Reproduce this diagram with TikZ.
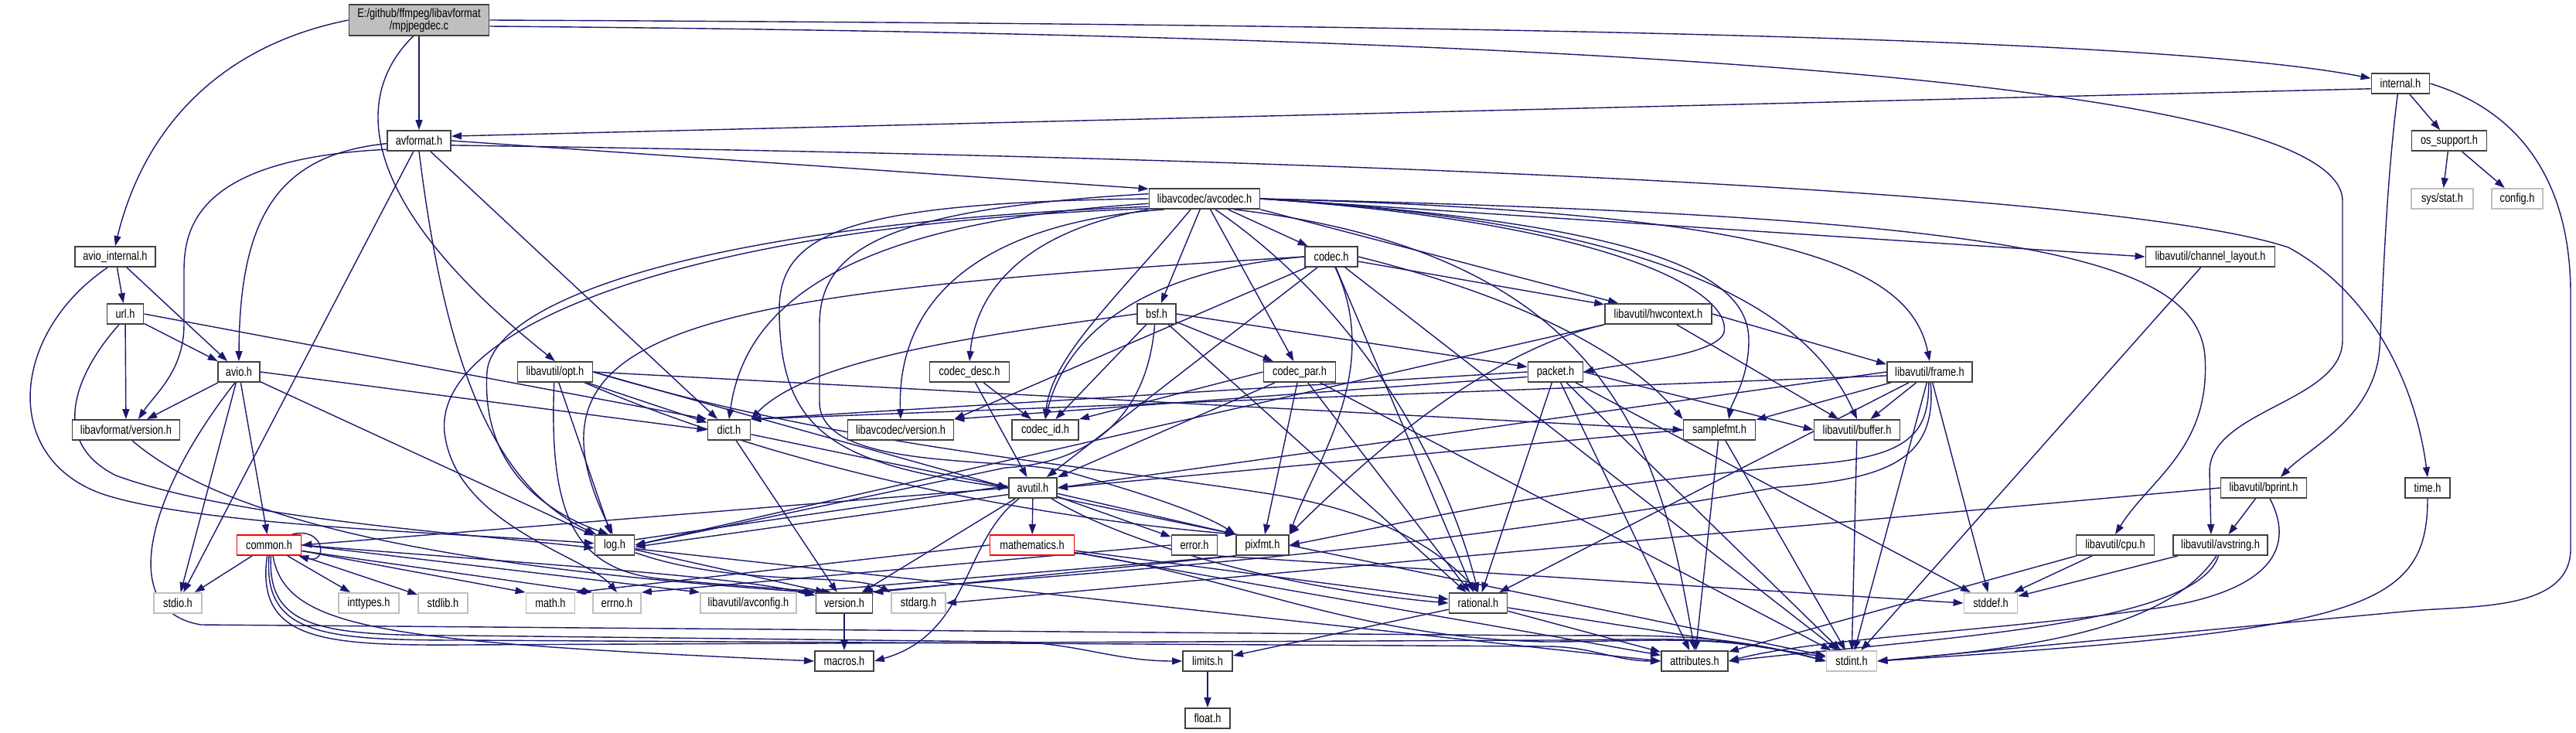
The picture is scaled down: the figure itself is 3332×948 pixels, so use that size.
\documentclass[tikz,border=0pt]{standalone}
\usepackage{fontspec}
\newfontfamily\nf{Liberation Sans}[FakeStretch=0.8]
\usetikzlibrary{arrows.meta,backgrounds}
\definecolor{edgec}{RGB}{25,25,112}
\definecolor{mainfill}{RGB}{191,191,191}
\definecolor{leafc}{RGB}{191,191,191}
\definecolor{boxc}{RGB}{64,64,64}
\begin{document}
\begin{tikzpicture}[x=0.5pt,y=-0.5pt,
  nb/.style={draw=boxc, fill=white, line width=0.9pt, minimum height=13pt, inner sep=0pt, font=\nf\fontsize{8}{9.6}\selectfont},
  gb/.style={nb, draw=leafc},
  rb/.style={nb, draw=red},
  ed/.style={draw=edgec, line width=0.7pt, -{Triangle[length=6.5pt,width=4.5pt]}}]
\useasboundingbox (0,0) rectangle (3332,948);
% nodes
\node[nb, fill=mainfill, minimum width=90.5pt, minimum height=20pt, align=center, font=\nf\fontsize{8}{7.9}\selectfont] (main) at (542,26) {E:/github/ffmpeg/libavformat\\/mpjpegdec.c};
\node[nb, minimum width=41pt] (avformat) at (542,182) {avformat.h};
\node[nb, minimum width=37.5pt] (internal) at (3105,108) {internal.h};
\node[nb, minimum width=48.5pt] (ossupport) at (3168,182) {os\_support.h};
\node[gb, minimum width=40pt] (sysstat) at (3159,257) {sys/stat.h};
\node[gb, minimum width=33pt] (config) at (3256,257) {config.h};
\node[nb, minimum width=52pt] (aviointernal) at (149,332) {avio\_internal.h};
\node[nb, minimum width=23.5pt] (url) at (162,406) {url.h};
\node[nb, minimum width=27pt] (avio) at (309,481) {avio.h};
\node[nb, minimum width=69.5pt] (lavfversion) at (163,556) {libavformat/version.h};
\node[nb, minimum width=48.5pt] (opt) at (718,481) {libavutil/opt.h};
\node[nb, minimum width=71.5pt] (avcodec) at (1558,257) {libavcodec/avcodec.h};
\node[nb, minimum width=34pt] (codec) at (1722,332) {codec.h};
\node[nb, minimum width=25pt] (bsf) at (1496,406) {bsf.h};
\node[nb, minimum width=51.5pt] (codecdesc) at (1254,481) {codec\_desc.h};
\node[nb, minimum width=46.5pt] (codecpar) at (1681,481) {codec\_par.h};
\node[nb, minimum width=35.5pt] (packet) at (2012,481) {packet.h};
\node[nb, minimum width=69pt] (hwcontext) at (2145,406) {libavutil/hwcontext.h};
\node[nb, minimum width=55pt] (frame) at (2496,481) {libavutil/frame.h};
\node[nb, minimum width=83.5pt] (chlayout) at (2859,332) {libavutil/channel\_layout.h};
\node[nb, minimum width=27.5pt] (dict) at (943,556) {dict.h};
\node[nb, minimum width=68.5pt] (lavcversion) at (1165,556) {libavcodec/version.h};
\node[nb, minimum width=43pt] (codecid) at (1352,556) {codec\_id.h};
\node[nb, minimum width=46.5pt] (samplefmt) at (2224,556) {samplefmt.h};
\node[nb, minimum width=55.5pt] (buffer) at (2402,556) {libavutil/buffer.h};
\node[nb, minimum width=31pt] (avutil) at (1336,631) {avutil.h};
\node[rb, minimum width=41.5pt] (common) at (348,705) {common.h};
\node[nb, minimum width=25.5pt] (log) at (795,705) {log.h};
\node[nb, minimum width=29.5pt] (error) at (1545,705) {error.h};
\node[nb, minimum width=34pt] (pixfmt) at (1633,705) {pixfmt.h};
\node[rb, minimum width=54.5pt] (mathematics) at (1335,705) {mathematics.h};
\node[nb, minimum width=55.5pt] (bprint) at (2928,631) {libavutil/bprint.h};
\node[nb, minimum width=50.5pt] (cpu) at (2736,705) {libavutil/cpu.h};
\node[nb, minimum width=61pt] (avstring) at (2872,705) {libavutil/avstring.h};
\node[nb, minimum width=29pt] (time) at (3140,631) {time.h};
\node[gb, minimum width=31pt] (stdio) at (230,780) {stdio.h};
\node[gb, minimum width=39pt] (inttypes) at (477,780) {inttypes.h};
\node[gb, minimum width=32pt] (stdlib) at (573,780) {stdlib.h};
\node[gb, minimum width=31.5pt] (math) at (712,780) {math.h};
\node[gb, minimum width=31pt] (errno) at (798,780) {errno.h};
\node[gb, minimum width=62pt] (avconfig) at (968,780) {libavutil/avconfig.h};
\node[nb, minimum width=36.5pt] (version) at (1092,780) {version.h};
\node[gb, minimum width=35pt] (stdarg) at (1188,780) {stdarg.h};
\node[nb, minimum width=37.5pt] (rational) at (1912,780) {rational.h};
\node[gb, minimum width=34.5pt] (stddef) at (2575,780) {stddef.h};
\node[nb, minimum width=38pt] (macros) at (1092,855) {macros.h};
\node[nb, minimum width=32pt] (limits) at (1562,855) {limits.h};
\node[nb, minimum width=43pt] (attributes) at (2192,855) {attributes.h};
\node[gb, minimum width=32.5pt] (stdint) at (2395,855) {stdint.h};
\node[nb, minimum width=29pt] (float) at (1562,929) {float.h};
\begin{scope}[on background layer]
\fill[white] (0,0) rectangle (3332,948);
% main
\draw[ed] (main.west) .. controls (280,60) and (185,170) .. (aviointernal.north);
\draw[ed] (main) -- (avformat);
\draw[ed] (main.250) .. controls (450,130) and (470,270) .. (opt.north);
\draw[ed] (main.east) .. controls (2000,32) and (2800,50) .. (internal.170);
\draw[ed] (main.-5) .. controls (2000,45) and (3030,100) .. (3030,260) -- (3030,440) .. controls (3030,520) and (2858,530) .. (2858,610) -- ([xshift=-6pt]avstring.north);
% internal
\draw[ed] (internal.190) -- (avformat.8);
\draw[ed] (internal) -- (ossupport);
\draw[ed] (internal.255) .. controls (3085,250) and (3082,390) .. (3078,450) .. controls (3072,540) and (2985,580) .. ([xshift=11pt]bprint.north);
\draw[ed] (internal.east) .. controls (3280,150) and (3325,260) .. (3325,380) -- (3325,710) .. controls (3325,790) and (3200,783) .. (3120,790) -- (stdint.east);
\draw[ed] (ossupport) -- (sysstat);
\draw[ed] (ossupport) -- (config);
% avformat
\draw[ed] (avformat.185) .. controls (360,200) and (310,280) .. (avio.north);
\draw[ed] (avformat.195) .. controls (260,205) and (238,290) .. (238,350) -- (238,420) .. controls (238,480) and (200,510) .. ([xshift=8pt]lavfversion.north);
\draw[ed] (avformat) -- (stdio);
\draw[ed] (avformat.south) .. controls (570,420) and (620,620) .. (log.150);
\draw[ed] (avformat) -- (dict);
\draw[ed] (avformat.east) -- (avcodec.170);
\draw[ed] (avformat.-8) .. controls (1800,205) and (2750,250) .. (2960,320) .. controls (3070,380) and (3125,500) .. (time.north);
% avio_internal, url, avio
\draw[ed] (aviointernal) -- (url);
\draw[ed] (aviointernal) -- (avio);
\draw[ed] (aviointernal.235) .. controls (15,430) and (0,590) .. (130,638) .. controls (250,680) and (600,690) .. (log.175);
\draw[ed] (url) -- (avio);
\draw[ed] (url) -- (lavfversion);
\draw[ed] (url.east) -- (dict.north west);
\draw[ed] (url.240) .. controls (100,480) and (60,570) .. (150,615) .. controls (300,670) and (600,690) .. (log.188);
\draw[ed] (avio) -- (lavfversion);
\draw[ed] (avio) -- (stdio);
\draw[ed] (avio) -- (common);
\draw[ed] (avio) -- (log);
\draw[ed] (avio.east) -- (dict.west);
\draw[ed] (avio.250) .. controls (190,640) and (150,790) .. (260,808) -- (2000,822) to[out=0,in=165] (stdint.west);
\draw[ed] (lavfversion.-60) .. controls (300,680) and (600,735) .. (version.160);
% opt
\draw[ed] (opt) -- (dict);
\draw[ed] (opt.east) -- (samplefmt.west);
\draw[ed] (opt) -- (log);
\draw[ed] (opt.east) -- (avutil.west);
\draw[ed] (opt.-20) .. controls (1000,600) and (1300,665) .. (pixfmt.north west);
\draw[ed] (opt.east) .. controls (1100,580) and (1400,600) .. (1650,640) .. controls (1800,665) and (1870,720) .. (rational.north);
\draw[ed] (opt.265) .. controls (710,660) and (740,735) .. (850,748) .. controls (950,758) and (1020,762) .. (version.140);
% avcodec
\draw[ed] (avcodec.190) .. controls (900,290) and (560,420) .. (575,560) .. controls (590,680) and (760,720) .. (errno.north);
\draw[ed] (avcodec.188) .. controls (900,290) and (640,390) .. (630,480) .. controls (622,600) and (700,660) .. (log.120);
\draw[ed] (avcodec.185) .. controls (1050,290) and (960,420) .. (dict.north);
\draw[ed] (avcodec.195) .. controls (1250,290) and (1160,400) .. (lavcversion.north);
\draw[ed] (avcodec.south west) .. controls (1320,300) and (1262,380) .. (codecdesc.north);
\draw[ed] ([xshift=-9pt]avcodec.south) .. controls (1450,380) and (1360,460) .. (codecid.north);
\draw[ed] (avcodec.west) .. controls (1100,262) and (1008,300) .. (1008,400) .. controls (1008,560) and (1080,600) .. (avutil.west);
\draw[ed] (avcodec.175) .. controls (1150,270) and (1060,320) .. (1060,420) -- (1060,520) .. controls (1060,610) and (1300,590) .. (1380,610) .. controls (1450,630) and (1550,660) .. (pixfmt.north west);
\draw[ed] (avcodec) -- (bsf);
\draw[ed] (avcodec) -- (codec);
\draw[ed] (avcodec) -- (codecpar);
\draw[ed] (avcodec.south east) -- ([xshift=9pt]hwcontext.north west);
\draw[ed] (avcodec.east) .. controls (2100,290) and (2240,380) .. (2230,430) .. controls (2220,460) and (2100,470) .. (packet.east);
\draw[ed] (avcodec.east) .. controls (2150,290) and (2262,360) .. (2262,440) .. controls (2262,490) and (2240,520) .. ([xshift=6pt]samplefmt.north);
\draw[ed] (avcodec.east) .. controls (2100,285) and (2330,380) .. (buffer.north);
\draw[ed] (avcodec.east) .. controls (2300,275) and (2470,340) .. (frame.north);
\draw[ed] (avcodec.east) -- (chlayout.west);
\draw[ed] (avcodec.east) .. controls (2600,280) and (2840,330) .. (2852,460) .. controls (2860,580) and (2780,620) .. (cpu.north);
\draw[ed] (avcodec.-20) .. controls (2100,330) and (2150,600) .. (attributes.north);
\draw[ed] (avcodec.-45) .. controls (1760,400) and (1870,600) .. (rational.north);
% codec
\draw[ed] (codec) -- (stdint);
\draw[ed] (codec) -- (avutil);
\draw[ed] (codec) -- (hwcontext);
\draw[ed] (codec.west) .. controls (900,380) and (660,420) .. (log.100);
\draw[ed] (codec.-70) .. controls (1790,480) and (1700,600) .. (pixfmt.north east);
\draw[ed] (codec) -- (rational);
\draw[ed] (codec.east) .. controls (1950,380) and (2100,450) .. (samplefmt.north west);
\draw[ed] (codec.west) .. controls (1480,350) and (1380,430) .. (codecid.north);
\draw[ed] (codec) -- (lavcversion.north east);
% bsf
\draw[ed] (bsf.west) .. controls (1300,430) and (1050,460) .. (dict.north east);
\draw[ed] (bsf.260) .. controls (1485,530) and (1420,598) .. (1300,605) -- (log.east);
\draw[ed] (bsf) -- (rational);
\draw[ed] (bsf) -- (codecid);
\draw[ed] (bsf) -- (codecpar);
\draw[ed] (bsf.east) -- (packet.170);
% codec_desc, codec_par
\draw[ed] (codecdesc) -- (avutil);
\draw[ed] (codecdesc) -- (codecid);
\draw[ed] (codecpar) -- (stdint);
\draw[ed] (codecpar) -- (avutil);
\draw[ed] (codecpar) -- (rational);
\draw[ed] (codecpar) -- (pixfmt);
\draw[ed] (codecpar.west) -- (codecid.north east);
% packet
\draw[ed] (packet) -- (stddef);
\draw[ed] (packet) -- (stdint);
\draw[ed] (packet) -- (attributes);
\draw[ed] (packet.east) -- (buffer.west);
\draw[ed] (packet.west) -- (dict.north east);
\draw[ed] (packet) -- (rational);
\draw[ed] (packet.190) -- (lavcversion.north east);
% hwcontext
\draw[ed] (hwcontext) -- (buffer);
\draw[ed] (hwcontext.east) -- (frame.170);
\draw[ed] (hwcontext.south west) -- (log.east);
\draw[ed] (hwcontext.south west) .. controls (1940,450) and (1800,560) .. (pixfmt.north east);
% frame
\draw[ed] (frame) -- (stddef);
\draw[ed] (frame) -- (stdint);
\draw[ed] (frame.west) -- (avutil.east);
\draw[ed] (frame) -- (buffer);
\draw[ed] (frame) -- (samplefmt);
\draw[ed] (frame.185) -- (dict.north east);
\draw[ed] (frame) -- (rational);
\draw[ed] (frame.265) .. controls (2495,560) and (2470,590) .. (2350,600) .. controls (2000,630) and (1800,680) .. (pixfmt.east);
\draw[ed] (frame.275) .. controls (2505,590) and (2450,620) .. (2300,630) .. controls (1800,720) and (1400,740) .. (version.30);
\draw[ed] (chlayout) -- (stdint);
% dict, samplefmt, buffer
\draw[ed] (dict) -- (stdint);
\draw[ed] (dict) -- (version);
\draw[ed] (samplefmt.west) -- (avutil.east);
\draw[ed] (samplefmt) -- (attributes);
\draw[ed] (samplefmt) -- (stdint);
\draw[ed] (buffer) -- (stdint);
% avutil
\draw[ed] (avutil.west) -- (common.east);
\draw[ed] (avutil) -- (error);
\draw[ed] (avutil.-30) .. controls (1450,700) and (1650,760) .. (rational.west);
\draw[ed] (avutil) -- (version);
\draw[ed] ([xshift=-9pt]avutil.south) .. controls (1245,700) and (1255,820) .. (macros.east);
\draw[ed] (avutil) -- (mathematics);
\draw[ed] (avutil.195) -- (log.355);
\draw[ed] (avutil) -- (pixfmt.north west);
% common
\draw[ed] (common) -- (stdio);
\draw[ed] (common) -- (inttypes);
\draw[ed] (common) -- (stdlib);
\draw[ed] (common.-10) -- (math.north west);
\draw[ed] (common.-10) -- (errno.north west);
\draw[ed] (common.east) -- (avconfig.north west);
\draw[ed] (common.east) .. controls (700,730) and (950,745) .. (version.165);
\draw[ed] (common.290) .. controls (370,815) and (500,830) .. (macros.west);
\draw[ed] (common.280) .. controls (345,815) and (420,822) .. (600,822) -- (1300,830) to[out=0,in=180] (limits.west);
\draw[ed] (common.270) .. controls (340,822) and (420,828) .. (600,828) -- (2000,836) to[out=0,in=180] (attributes.west);
\draw[ed] (common.260) .. controls (330,830) and (420,835) .. (600,834) -- (2000,828) to[out=0,in=165] (stdint.west);
\draw[ed] (common.25) .. controls (420,680) and (425,730) .. (common.-20);
% log
\draw[ed] (log.-20) .. controls (950,760) and (1100,740) .. (stdarg.north west);
\draw[ed] (log.-10) -- (attributes.west);
\draw[ed] (log) -- (version.150);
\draw[ed] (log.15) -- (avutil.175);
% error, pixfmt
\draw[ed] (error.west) -- (errno.north east);
\draw[ed] (error.south east) -- (stddef.west);
\draw[ed] (pixfmt.south west) -- (avconfig.north east);
\draw[ed] (pixfmt.south west) -- (version.north east);
% mathematics
\draw[ed] (mathematics.-10) .. controls (1600,745) and (1750,825) .. (2000,830) to[out=0,in=165] (stdint.west);
\draw[ed] (mathematics.west) -- (math.north east);
\draw[ed] (mathematics) -- (attributes);
\draw[ed] (mathematics) -- (rational);
% rational, version, limits
\draw[ed] (rational) -- (stdint);
\draw[ed] (rational) -- (limits);
\draw[ed] (rational) -- (attributes);
\draw[ed] (version) -- (macros);
\draw[ed] (limits) -- (float);
% bprint, cpu, avstring, time
\draw[ed] (bprint.west) -- (stdarg.east);
\draw[ed] (bprint.-60) .. controls (2965,700) and (2950,760) .. (2800,785) .. controls (2600,815) and (2350,825) .. (attributes.east);
\draw[ed] (bprint) -- (avstring);
\draw[ed] (cpu) -- (stddef);
\draw[ed] (cpu) -- (attributes);
\draw[ed] (avstring) -- (stddef);
\draw[ed] (avstring.250) .. controls (2800,820) and (2600,840) .. (stdint.east);
\draw[ed] (avstring.260) .. controls (2840,810) and (2500,825) .. (attributes.east);
\draw[ed] (time.south) .. controls (3140,790) and (3050,815) .. (stdint.east);
\end{scope}
\end{tikzpicture}
\end{document}
